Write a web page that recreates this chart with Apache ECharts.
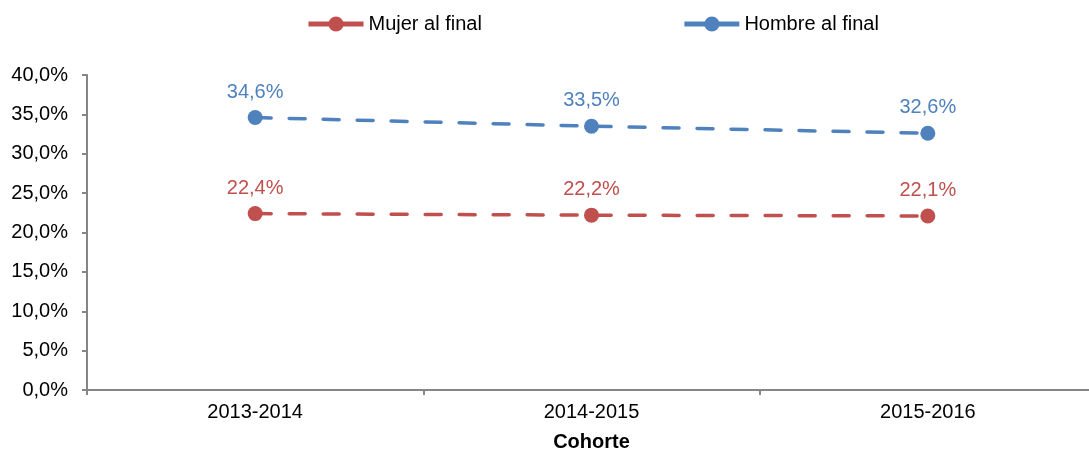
<!DOCTYPE html>
<html>
<head>
<meta charset="utf-8">
<script src="https://cdn.jsdelivr.net/npm/echarts@6/dist/echarts.min.js"></script>
<style>
html,body{margin:0;padding:0;background:#fff;}
#chart{width:1089px;height:452px;}
</style>
</head>
<body>
<div id="chart"></div>
<script>
const categories = ['2013-2014', '2014-2015', '2015-2016'];
const mujerValues = [22.4, 22.2, 22.1];
const hombreValues = [34.6, 33.5, 32.6];
const seriesNames = ['Mujer al final', 'Hombre al final'];
const axisTitle = 'Cohorte';

const RED = '#C0504D';
const BLUE = '#4F81BD';
const FONT = '"Liberation Sans", Arial, sans-serif';
const fmt = v => v.toFixed(1).replace('.', ',') + '%';

const chart = echarts.init(document.getElementById('chart'), null, {renderer: 'canvas'});

function makeSeries(name, data, color) {
  return {
    name: name,
    type: 'line',
    data: data,
    symbol: 'circle',
    symbolSize: 15,
    itemStyle: {color: color},
    lineStyle: {color: color, width: 3.5, type: [16, 18], cap: 'round'},
    label: {
      show: true,
      position: 'top',
      distance: 8,
      color: color,
      fontFamily: FONT,
      fontSize: 20,
      formatter: p => fmt(p.value)
    },
    animation: false
  };
}

chart.setOption({
  animation: false,
  legend: {
    top: 9,
    left: 301,
    itemWidth: 55,
    itemHeight: 19,
    itemGap: 200,
    textStyle: {fontFamily: FONT, fontSize: 20, color: '#000'},
    lineStyle: {type: 'solid', width: 5, cap: 'butt'},
    data: seriesNames
  },
  grid: {left: 87, right: -7, top: 75, bottom: 62, containLabel: false, outerBoundsMode: 'none'},
  xAxis: {
    type: 'category',
    data: categories,
    boundaryGap: true,
    name: axisTitle,
    nameLocation: 'middle',
    nameGap: 42,
    nameTextStyle: {fontFamily: FONT, fontSize: 20, fontWeight: 'bold', color: '#000'},
    axisLine: {lineStyle: {color: '#868686', width: 2}},
    axisTick: {show: true, length: 5, inside: false, lineStyle: {color: '#868686', width: 2}},
    axisLabel: {fontFamily: FONT, fontSize: 20, color: '#000', margin: 12}
  },
  yAxis: {
    type: 'value',
    min: 0,
    max: 40,
    interval: 5,
    axisLine: {show: true, lineStyle: {color: '#868686', width: 2}},
    axisTick: {show: true, length: 5, inside: false, lineStyle: {color: '#868686', width: 2}},
    splitLine: {show: false},
    axisLabel: {fontFamily: FONT, fontSize: 20, color: '#000', margin: 19, formatter: v => fmt(v)}
  },
  series: [
    makeSeries(seriesNames[0], mujerValues, RED),
    makeSeries(seriesNames[1], hombreValues, BLUE)
  ]
});
</script>
</body>
</html>
